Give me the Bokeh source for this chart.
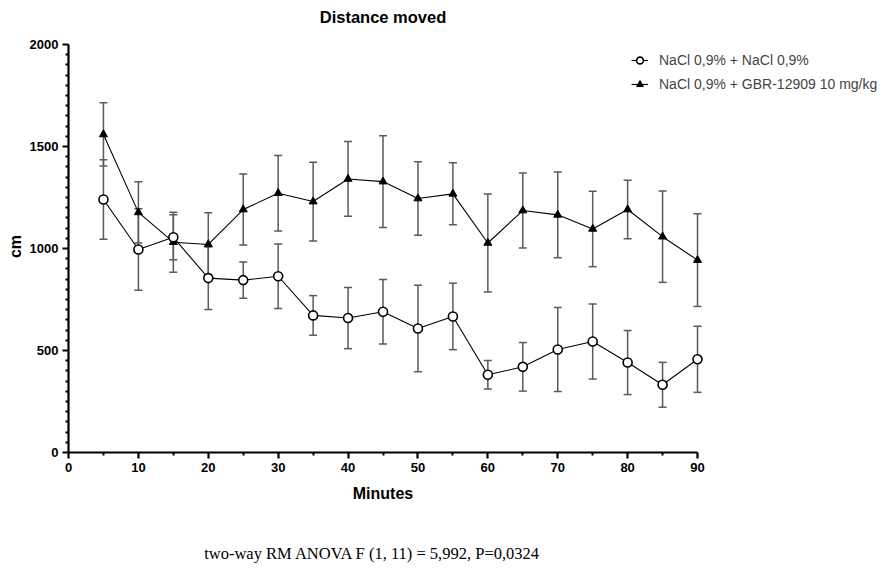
import math
from bokeh.plotting import figure
from bokeh.models import (ColumnDataSource, Whisker, TeeHead, FixedTicker, Range1d,
                          Legend, LegendItem, Label)
from bokeh.embed import file_html
from bokeh.resources import INLINE

# Distance moved per 5-minute bin (mean ± SEM)
minutes = [5, 10, 15, 20, 25, 30, 35, 40, 45, 50, 55, 60, 65, 70, 75, 80, 85, 90]
saline_mean = [1240, 995, 1055, 855, 845, 864, 672, 659, 690, 608, 667, 381, 420, 505, 544, 441, 332, 457]
saline_sem = [195, 200, 110, 154, 89, 158, 97, 150, 158, 212, 163, 70, 119, 206, 184, 157, 110, 162]
gbr_mean = [1559, 1177, 1031, 1020, 1191, 1271, 1230, 1341, 1328, 1245, 1268, 1027, 1186, 1165, 1096, 1191, 1058, 943]
gbr_sem = [155, 150, 147, 155, 174, 185, 193, 183, 225, 180, 152, 240, 184, 210, 185, 143, 224, 227]

series_labels = ["NaCl 0,9% + NaCl 0,9%", "NaCl 0,9% + GBR-12909 10 mg/kg"]
x_major = [0, 10, 20, 30, 40, 50, 60, 70, 80, 90]
x_minor = [5, 15, 25, 35, 45, 55, 65, 75, 85]
y_major = [0, 500, 1000, 1500, 2000]
y_minor = [v for v in range(0, 2001, 50) if v % 500]

title_text = "Distance moved"
x_label = "Minutes"
y_label = "cm"
stats_text = "two-way RM ANOVA F (1, 11) = 5,992, P=0,0324"

SANS = "Liberation Sans"

src_sal = ColumnDataSource(dict(
    x=minutes, y=saline_mean,
    lo=[m - s for m, s in zip(saline_mean, saline_sem)],
    hi=[m + s for m, s in zip(saline_mean, saline_sem)]))
src_gbr = ColumnDataSource(dict(
    x=minutes, y=gbr_mean,
    lo=[m - s for m, s in zip(gbr_mean, gbr_sem)],
    hi=[m + s for m, s in zip(gbr_mean, gbr_sem)]))

# The plotting frame fills the whole canvas; axes are pinned at x=0 / y=0
# so that titles and notes can be placed freely in data space around them.
p = figure(width=883, height=570, output_backend="svg", toolbar_location=None,
           x_range=Range1d(-9.73, 116.61), y_range=Range1d(-578.4, 2215.7),
           min_border=0)
p.outline_line_color = None
p.grid.visible = False
p.background_fill_color = "white"
p.border_fill_color = "white"

# error bars
for src in (src_gbr, src_sal):
    w = Whisker(source=src, base="x", upper="hi", lower="lo", dimension="height",
                line_color="#5a5a5a", line_width=1.5,
                upper_head=TeeHead(size=8, line_color="#5a5a5a", line_width=1.5),
                lower_head=TeeHead(size=8, line_color="#5a5a5a", line_width=1.5))
    p.add_layout(w)

# series: lines + markers
l_gbr = p.line("x", "y", source=src_gbr, line_color="black", line_width=1.1)
m_gbr = p.scatter("x", "y", source=src_gbr, marker="triangle", size=8,
                  fill_color="black", line_color="black", line_width=1)
l_sal = p.line("x", "y", source=src_sal, line_color="black", line_width=1.1)
m_sal = p.scatter("x", "y", source=src_sal, marker="circle", size=9,
                  fill_color="white", line_color="black", line_width=1.6)

legend = Legend(items=[LegendItem(label=series_labels[0], renderers=[l_sal, m_sal]),
                       LegendItem(label=series_labels[1], renderers=[l_gbr, m_gbr])],
                location=(631, 474), padding=0, margin=0, spacing=0,
                glyph_width=17, glyph_height=24, label_height=24, label_standoff=11,
                label_text_font=SANS, label_text_font_size="14px",
                border_line_color=None, background_fill_alpha=0)
p.add_layout(legend)

# axes
for ax in (p.xaxis[0], p.yaxis[0]):
    ax.fixed_location = 0
    ax.axis_line_width = 2.2
    ax.major_tick_line_width = 2.2
    ax.minor_tick_line_width = 2
    ax.major_tick_in = 0
    ax.minor_tick_in = 0
    ax.major_tick_out = 6
    ax.minor_tick_out = 3
    ax.major_label_text_font = SANS
    ax.major_label_text_font_style = "bold"
    ax.major_label_text_font_size = "13px"
    ax.major_label_text_color = "black"
    ax.major_label_standoff = 4

p.xaxis.bounds = (0, 90)
p.xaxis.ticker = FixedTicker(ticks=x_major, minor_ticks=x_minor)
p.yaxis.bounds = (0, 2000)
p.yaxis.ticker = FixedTicker(ticks=y_major, minor_ticks=y_minor)

# titles and notes
bold = dict(text_font=SANS, text_font_style="bold", text_color="black",
            text_align="center", text_baseline="middle")
p.add_layout(Label(x=45, y=2137, text=title_text, text_font_size="16.5px", **bold))
p.add_layout(Label(x=45, y=-201, text=x_label, text_font_size="16px", **bold))
p.add_layout(Label(x=-7.6, y=1010, text=y_label, angle=math.pi / 2,
                   text_font_size="16px", **bold))
p.add_layout(Label(x=43.5, y=-495, text=stats_text, text_font="Liberation Serif",
                   text_font_size="16.5px", text_color="black",
                   text_align="center", text_baseline="middle"))

open("out.html", "w").write(file_html(p, INLINE))
